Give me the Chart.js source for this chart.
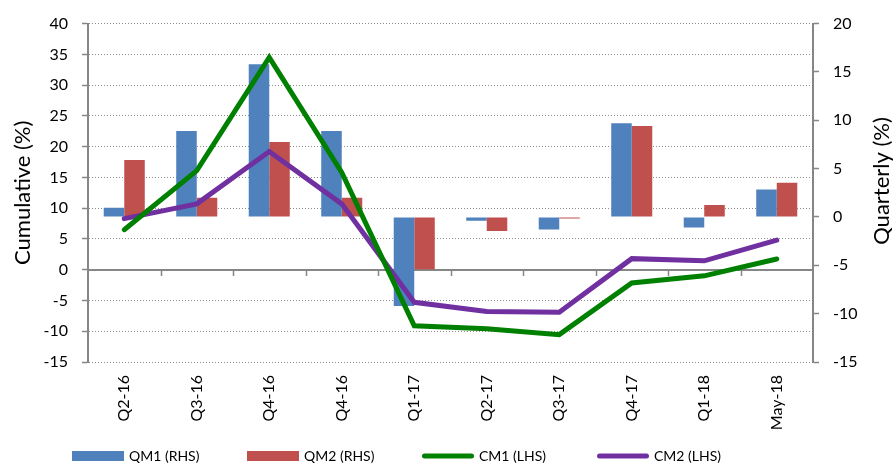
<!DOCTYPE html>
<html>
<head>
<meta charset="utf-8">
<script src="https://cdn.jsdelivr.net/npm/chart.js@4.4.1/dist/chart.umd.min.js"></script>
<style>
  html, body { margin: 0; padding: 0; background: #fff; }
  #wrap { width: 893px; height: 465px; position: relative; }
</style>
</head>
<body>
<div id="wrap"><canvas id="c"></canvas></div>
<script>
// ---- Data ----
const categories = ['Q2-16', 'Q3-16', 'Q4-16', 'Q4-16', 'Q1-17', 'Q2-17', 'Q3-17', 'Q4-17', 'Q1-18', 'May-18'];
const qm1 = [0.95, 8.9, 15.8, 8.9, -9.2, -0.4, -1.3, 9.7, -1.1, 2.85];     // RHS, quarterly
const qm2 = [5.9, 2.0, 7.75, 2.0, -5.4, -1.45, -0.15, 9.4, 1.25, 3.55];   // RHS, quarterly
const cm1 = [6.5, 16.1, 34.5, 15.8, -9.1, -9.6, -10.55, -2.15, -1.0, 1.75]; // LHS, cumulative
const cm2 = [8.3, 10.7, 19.2, 10.7, -5.3, -6.8, -6.9, 1.8, 1.45, 4.8];     // LHS, cumulative
const seriesNames = ['QM1 (RHS)', 'QM2 (RHS)', 'CM1 (LHS)', 'CM2 (LHS)'];
const leftAxis = { min: -15, max: 40, step: 5, title: 'Cumulative (%)' };
const rightAxis = { min: -15, max: 20, step: 5, title: 'Quarterly (%)' };

const FONT = 'Lato';
const AXIS_GRAY = '#868686';
const GRID_GRAY = '#8c8c8c';

const extras = {
  id: 'extras',
  beforeDatasetsDraw(chart) {
    const ctx = chart.ctx, xs = chart.scales.x, ys = chart.scales.y;
    const area = chart.chartArea;
    // solid horizontal axis line at left-axis 0
    const y0 = Math.round(ys.getPixelForValue(0));
    ctx.save();
    ctx.fillStyle = '#fff';
    ctx.fillRect(area.left + 1, y0 - 1, area.right - area.left - 2, 2);
    ctx.beginPath();
    ctx.strokeStyle = AXIS_GRAY;
    ctx.lineWidth = 2;
    ctx.moveTo(area.left, y0);
    ctx.lineTo(area.right, y0);
    ctx.stroke();
    // small tick marks on it, between categories
    const n = categories.length;
    const w = (xs.getPixelForValue(1) - xs.getPixelForValue(0));
    ctx.lineWidth = 1.5;
    for (let i = 1; i < n; i++) {
      const x = Math.round(xs.getPixelForValue(i) - w / 2) + 0.5;
      ctx.beginPath();
      ctx.moveTo(x, y0);
      ctx.lineTo(x, y0 + 6);
      ctx.stroke();
    }
    ctx.restore();
  },
  afterDraw(chart) {
    const ctx = chart.ctx;
    // right axis title, reading upward
    ctx.save();
    ctx.font = '22px ' + FONT;
    ctx.fillStyle = '#000';
    ctx.textAlign = 'center';
    ctx.textBaseline = 'middle';
    ctx.translate(882, 181);
    ctx.rotate(-Math.PI / 2);
    ctx.fillText(rightAxis.title, 0, 0);
    ctx.restore();

    // legend
    const startX = 72, step = 175, yc = 456, boxW = 52;
    ctx.save();
    ctx.font = '14px ' + FONT;
    ctx.textBaseline = 'middle';
    ctx.textAlign = 'left';
    seriesNames.forEach((name, k) => {
      const ds = chart.data.datasets.find(d => d.label === name);
      const x = startX + k * step;
      if (ds.type === 'bar') {
        ctx.fillStyle = ds.backgroundColor;
        ctx.fillRect(x, yc - 5, boxW, 10);
      } else {
        ctx.strokeStyle = ds.borderColor;
        ctx.lineWidth = 5;
        ctx.lineCap = 'round';
        ctx.beginPath();
        ctx.moveTo(x + 2.5, yc);
        ctx.lineTo(x + boxW - 2.5, yc);
        ctx.stroke();
      }
      ctx.fillStyle = '#000';
      ctx.fillText(ds.label, x + boxW + 5, yc);
    });
    ctx.restore();
  }
};

new Chart(document.getElementById('c'), {
  data: {
    labels: categories,
    datasets: [
      { type: 'bar', label: seriesNames[0], data: qm1, yAxisID: 'y1', backgroundColor: '#4F81BD',
        borderWidth: 0, categoryPercentage: 0.566, barPercentage: 1.0, order: 1 },
      { type: 'bar', label: seriesNames[1], data: qm2, yAxisID: 'y1', backgroundColor: '#C0504D',
        borderWidth: 0, categoryPercentage: 0.566, barPercentage: 1.0, order: 1 },
      { type: 'line', label: seriesNames[2], data: cm1, yAxisID: 'y', borderColor: '#008000',
        backgroundColor: '#008000', borderWidth: 5, pointRadius: 0, tension: 0, fill: false,
        borderCapStyle: 'round', borderJoinStyle: 'miter', order: 0 },
      { type: 'line', label: seriesNames[3], data: cm2, yAxisID: 'y', borderColor: '#7030A0',
        backgroundColor: '#7030A0', borderWidth: 5, pointRadius: 0, tension: 0, fill: false,
        borderCapStyle: 'round', borderJoinStyle: 'miter', order: 0 }
    ]
  },
  options: {
    responsive: true,
    maintainAspectRatio: false,
    animation: false,
    layout: { padding: { top: 23, left: 0, right: 0, bottom: 0 } },
    plugins: { legend: { display: false }, tooltip: { enabled: false } },
    scales: {
      x: {
        grid: { display: false, drawTicks: false },
        border: { display: false },
        ticks: { font: { family: FONT, size: 16 }, color: '#000', minRotation: 90, maxRotation: 90,
                 padding: 13, autoSkip: false },
        afterFit: s => { s.height = 103; }
      },
      y: {
        position: 'left',
        min: leftAxis.min, max: leftAxis.max,
        ticks: { stepSize: leftAxis.step, font: { family: FONT, size: 16 }, color: '#000', padding: 14 },
        grid: { display: true, drawOnChartArea: true, color: GRID_GRAY, lineWidth: 1,
                tickColor: AXIS_GRAY, tickLength: 6, tickWidth: 1.5, drawTicks: true,
                tickBorderDash: [] },
        border: { display: true, color: AXIS_GRAY, width: 2, dash: [1, 2] },
        title: { display: true, text: leftAxis.title, font: { family: FONT, size: 22 }, color: '#000',
                 padding: { top: 10, bottom: 0 } },
        afterFit: s => { s.width = 88; }
      },
      y1: {
        position: 'right',
        min: rightAxis.min, max: rightAxis.max,
        ticks: { stepSize: rightAxis.step, font: { family: FONT, size: 16 }, color: '#000', padding: 14 },
        grid: { drawOnChartArea: false, tickColor: AXIS_GRAY, tickLength: 6, tickWidth: 1.5, drawTicks: true },
        border: { display: true, color: AXIS_GRAY, width: 2 },
        afterFit: s => { s.width = 80; }
      }
    }
  },
  plugins: [extras]
});
</script>
</body>
</html>
